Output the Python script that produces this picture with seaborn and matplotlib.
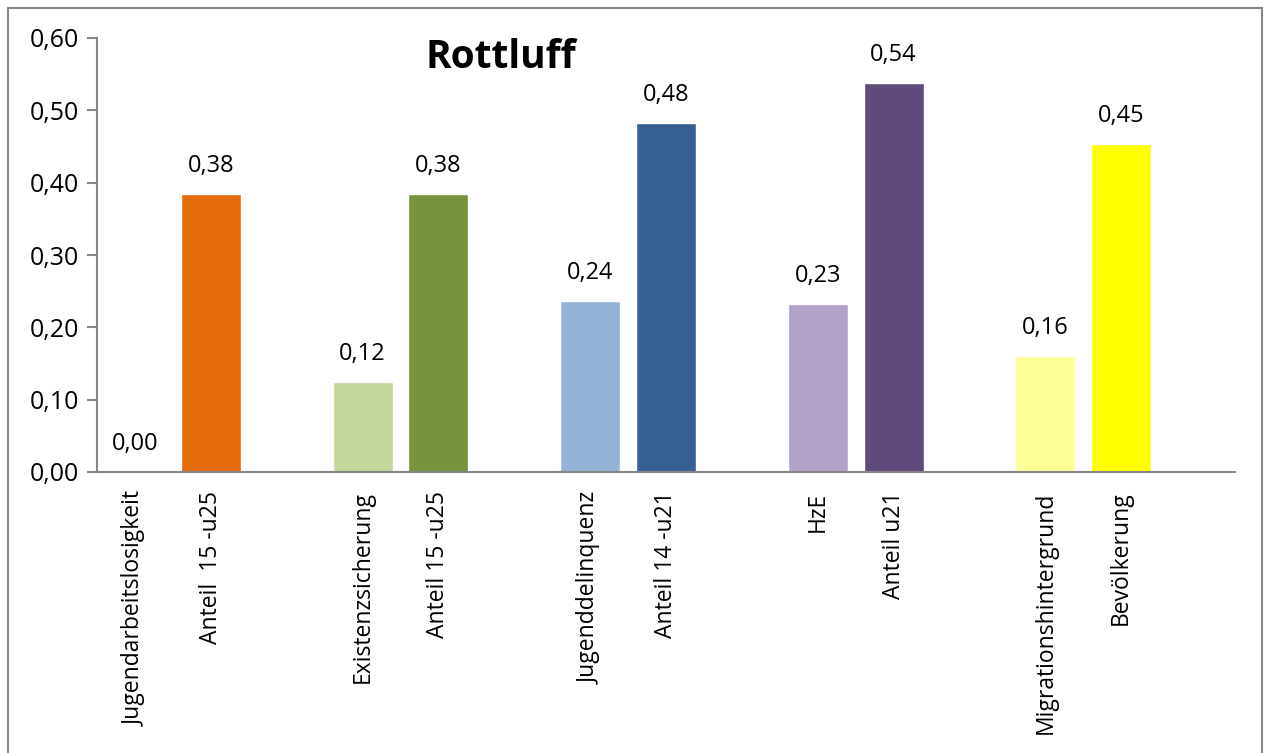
import matplotlib
matplotlib.use("Agg")
import matplotlib.pyplot as plt
from matplotlib.patches import Rectangle
import seaborn as sns
import pandas as pd

# slot order incl. empty gaps between the groups
slots = ["s0", "s1", "g1", "s2", "s3", "g2", "s4", "s5", "g3", "s6", "s7", "g4", "s8", "s9", "g5"]
slot_labels = ["Jugendarbeitslosigkeit", "Anteil  15 -u25", "",
               "Existenzsicherung", "Anteil 15 -u25", "",
               "Jugenddelinquenz", "Anteil 14 -u21", "",
               "HzE", "Anteil u21", "",
               "Migrationshintergrund", "Bevölkerung", ""]

bar_slots = ["s0", "s1", "s2", "s3", "s4", "s5", "s6", "s7", "s8", "s9"]
values = [0.00, 0.384, 0.124, 0.384, 0.236, 0.482, 0.232, 0.538, 0.161, 0.454]
colors = ["#E46C0A", "#E46C0A", "#C3D69B", "#77933C", "#95B3D7",
          "#366092", "#B3A2C7", "#604A7B", "#FFFF99", "#FFFF00"]

df = pd.DataFrame({"slot": bar_slots, "value": values})

sns.set_style("white")
plt.rcParams["font.family"] = ["Open Sans", "DejaVu Sans"]
plt.rcParams["text.color"] = "black"

fig = plt.figure(figsize=(12.64, 7.53), dpi=100)
ax = fig.add_axes([97 / 1264, 1 - 472 / 753, (1235 - 97) / 1264, (472 - 38) / 753])

sns.barplot(data=df, x="slot", y="value", hue="slot", order=slots,
            palette=dict(zip(bar_slots, colors)), width=0.79,
            legend=False, saturation=1, ax=ax)

# value labels above the bars
for s, v in zip(bar_slots, values):
    ax.text(slots.index(s), v + 0.022, f"{v:.2f}".replace(".", ","),
            ha="center", va="bottom", fontsize=17, color="black")

ax.set_xlim(-0.5, len(slots) - 0.5)
ax.set_ylim(0, 0.6)
ax.set_yticks([0, 0.1, 0.2, 0.3, 0.4, 0.5, 0.6])
ax.set_yticklabels([f"{t:.2f}".replace(".", ",") for t in ax.get_yticks()], fontsize=18)
ax.set_xticks(range(len(slots)))
ax.set_xticklabels(slot_labels, rotation=90, fontsize=16.5, va="top")
ax.set_xticks([i - 0.5 for i in range(len(slots) + 1)], minor=True)
ax.tick_params(axis="x", which="major", length=0, pad=14, labelcolor="black")
ax.tick_params(axis="x", which="minor", length=7, width=1.5, color="#868686", direction="out")
ax.tick_params(axis="y", length=7, width=1.5, color="#868686", direction="out",
               left=True, pad=6, labelcolor="black")
ax.set_xlabel("")
ax.set_ylabel("")

for side in ["top", "right"]:
    ax.spines[side].set_visible(False)
for side in ["left", "bottom"]:
    ax.spines[side].set_color("#868686")
    ax.spines[side].set_linewidth(1.5)

ax.text(0.355, 0.956, "Rottluff", transform=ax.transAxes, ha="center", va="center",
        fontsize=28, fontweight="bold", color="black")

fig.patches.append(Rectangle((8 / 1264, -0.05), (1262 - 8) / 1264, 1.05 - 8 / 753,
                             transform=fig.transFigure, fill=False,
                             edgecolor="#888888", linewidth=1.5, clip_on=False))

fig.savefig("out.png", dpi=100)
